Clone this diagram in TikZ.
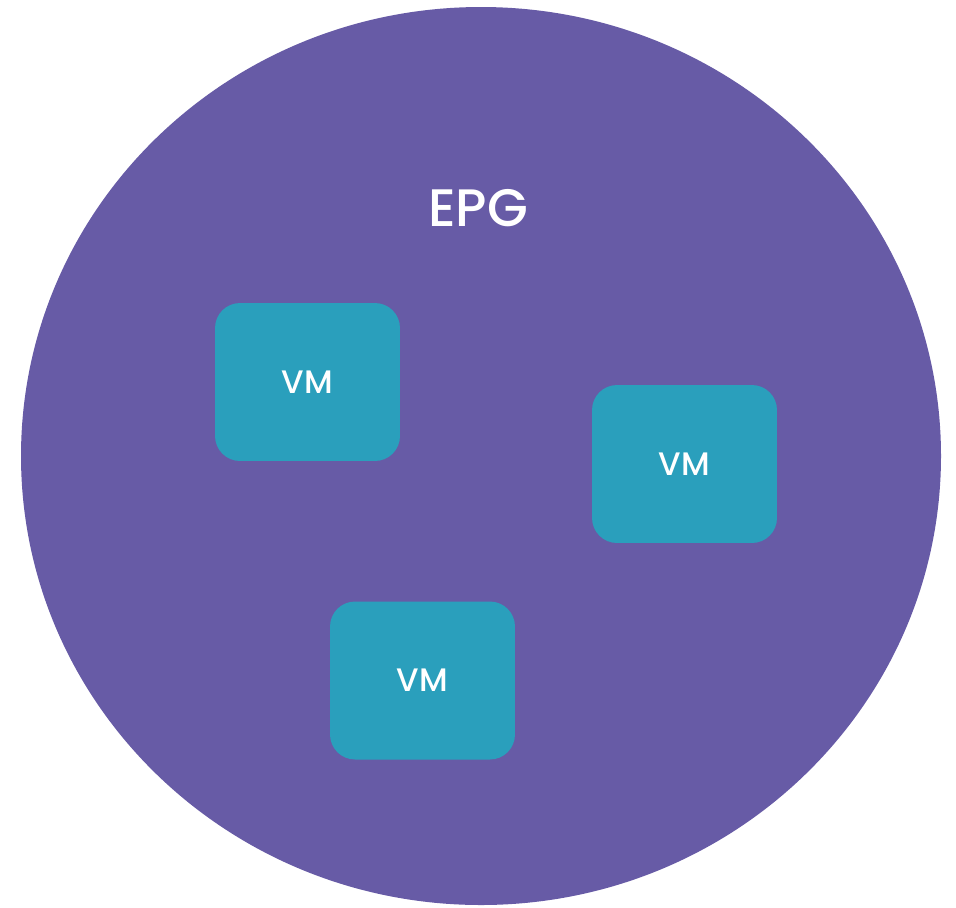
\documentclass[tikz,border=0pt]{standalone}
\usepackage{fontspec}
\setmainfont{Poppins}[UprightFont=*-Medium]
\usetikzlibrary{positioning}

\definecolor{epgpurple}{HTML}{675BA6}
\definecolor{vmteal}{HTML}{2A9FBC}

\tikzset{
    vmbox/.style={fill=vmteal, text=white, rounded corners=.5cm,
        minimum width=3.7cm, minimum height=3.16cm, font=\fontsize{18.5}{20}\selectfont},
    epglabel/.style={text=white, font=\fontsize{30}{32}\selectfont}
}

\begin{document}
\begin{tikzpicture}[x=0.02cm, y=-0.02cm]
    \newcommand\epgrx{460}
    \newcommand\epgry{449}

    \useasboundingbox (0, 0) rectangle (956, 907);

    \fill[epgpurple] (481, 456) coordinate (epg-c)
        ellipse[x radius=\epgrx, y radius=\epgry];

    \node[epglabel] (epg-label) at (478, 208) {EPG};

    \node[vmbox] (vm-a) at (307.5, 382) {VM};
    \node[vmbox] (vm-b) at (684.5, 464) {VM};
    \node[vmbox] (vm-c) at (422.5, 680.5) {VM};
\end{tikzpicture}
\end{document}
